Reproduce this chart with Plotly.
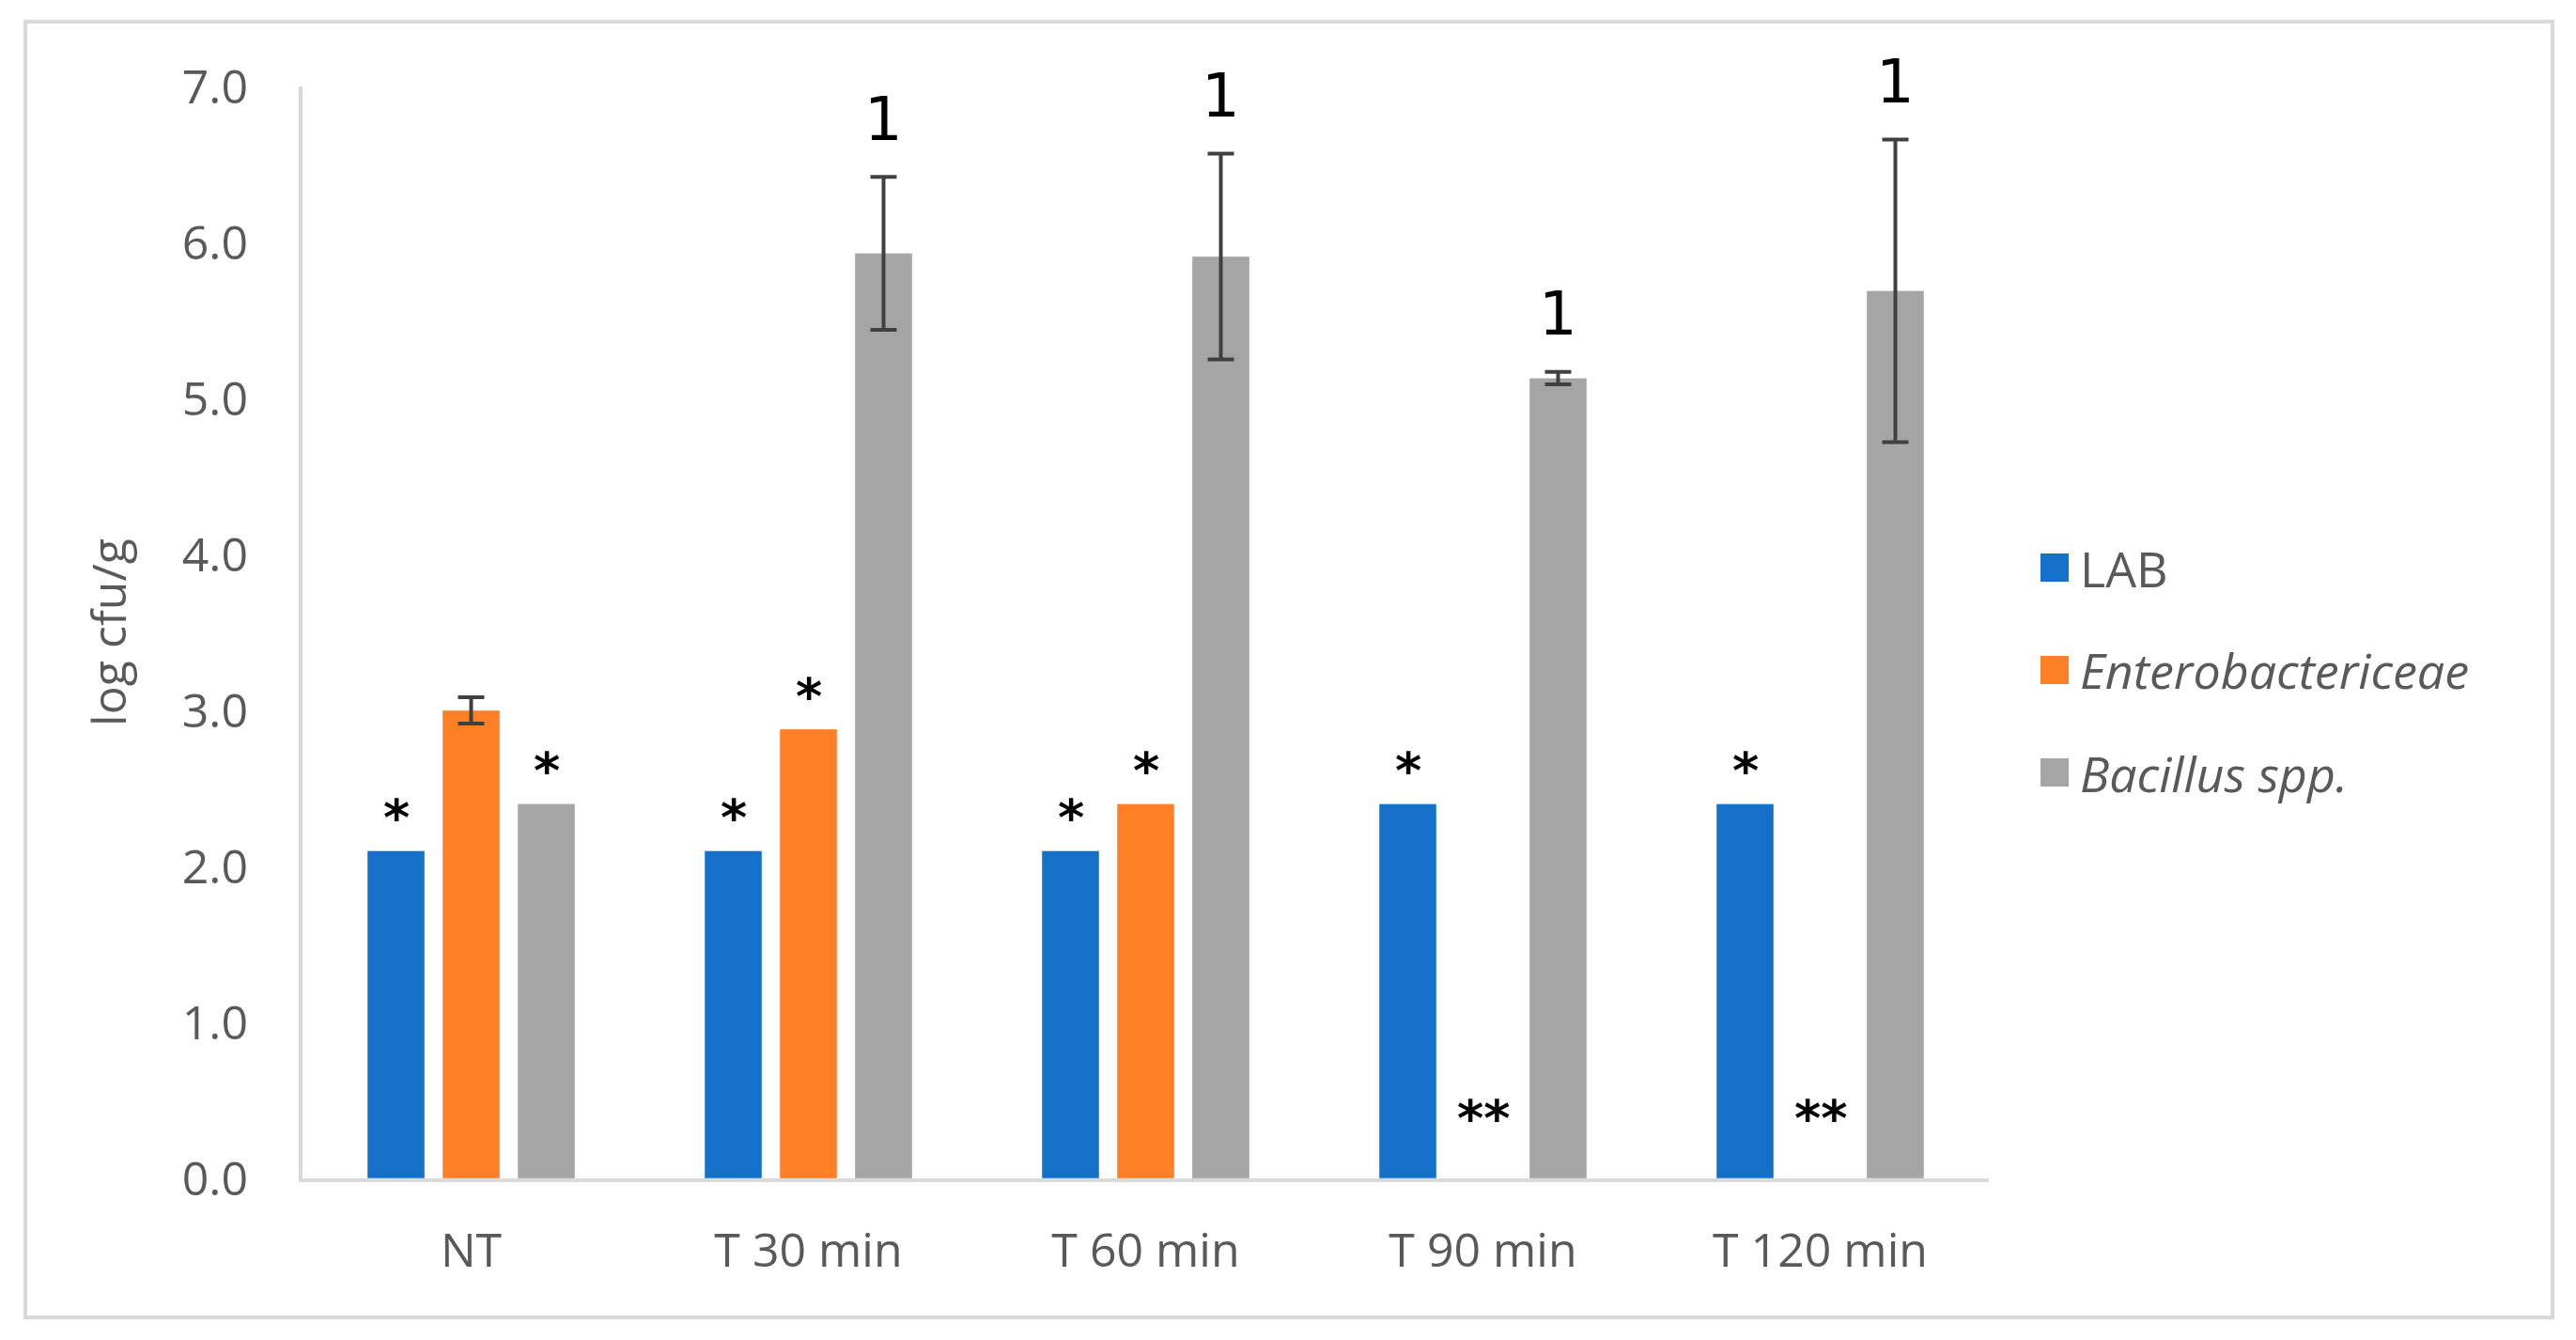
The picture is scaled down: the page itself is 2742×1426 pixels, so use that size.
import plotly.graph_objects as go

# ---------------- data ----------------
categories = ["NT", "T 30 min", "T 60 min", "T 90 min", "T 120 min"]
series_names = ["LAB", "Enterobactericeae", "Bacillus spp."]
series_italic = [False, True, True]
lab_values = [2.10, 2.10, 2.10, 2.40, 2.40]
entero_values = [3.00, 2.88, 2.40, None, None]
bacillus_values = [2.40, 5.93, 5.91, 5.13, 5.69]
lab_err = [None, None, None, None, None]
entero_err = [0.085, None, None, None, None]
bacillus_err = [None, 0.49, 0.66, 0.04, 0.97]
lab_marks = ["*", "*", "*", "*", "*"]
entero_marks = ["", "*", "*", "**", "**"]
bacillus_marks = ["*", "1", "1", "1", "1"]
y_ticks = [0, 1, 2, 3, 4, 5, 6, 7]
y_max = 7

# ---------------- style ----------------
colors = ["#1470C8", "#FF7F27", "#A5A5A5"]
OFF = 8                      # page body margin
W, H = 2742 - OFF, 1426 - OFF
PL, PR, PT, PB = 322, 2117, 92, 1254   # plot area in reference pixels
L, T = PL - OFF, PT - OFF
R, B = W - (PR - OFF), H - (PB - OFF)
BARGAP = 0.3315
BARGROUPGAP = 0.2375
TXT = "#595959"
FONT = "Open Sans"
MARK_FONT = "DejaVu Sans"
mark_size = {"*": 54, "**": 54, "1": 64}
mark_pad = {"*": 0.21, "**": 0.38, "1": 0.37}

values = [lab_values, entero_values, bacillus_values]
errs = [lab_err, entero_err, bacillus_err]
marks = [lab_marks, entero_marks, bacillus_marks]

fig = go.Figure()
for s, (name, vals, err, col) in enumerate(zip(series_names, values, errs, colors)):
    with_err = [i for i, v in enumerate(vals) if v is not None and err[i] is not None]
    no_err = [i for i, v in enumerate(vals) if v is not None and err[i] is None]
    if no_err:
        fig.add_trace(go.Bar(
            x=[categories[i] for i in no_err], y=[vals[i] for i in no_err],
            name=name, marker_color=col, showlegend=False, offsetgroup=str(s),
        ))
    if with_err:
        fig.add_trace(go.Bar(
            x=[categories[i] for i in with_err], y=[vals[i] for i in with_err],
            name=name, marker_color=col, showlegend=False, offsetgroup=str(s),
            error_y=dict(type="data", array=[err[i] for i in with_err], visible=True,
                         color="#404040", thickness=4, width=14),
        ))

# significance marks above bars
n_series = len(series_names)
slot = (1 - BARGAP) / n_series
annotations = []
for s in range(n_series):
    for i, cat in enumerate(categories):
        m = marks[s][i]
        if not m:
            continue
        v = values[s][i] or 0.0
        e = errs[s][i] or 0.0
        xpos = i + (s - (n_series - 1) / 2) * slot
        annotations.append(dict(
            x=xpos, y=(v + e + mark_pad[m]) / y_max, xref="x", yref="paper", text=m,
            showarrow=False, xanchor="center", yanchor="middle",
            font=dict(family=MARK_FONT, size=mark_size[m], color="black",
                      weight=700 if "*" in m else 400),
        ))

# custom legend (reference pixel positions -> paper coords)
plot_w = PR - PL
plot_h = PB - PT
def px_x(p):
    return (p - PL) / plot_w
def px_y(p):
    return (PB - p) / plot_h

shapes = []
leg_y0 = 604
leg_dy = 109
for k, (name, col, it) in enumerate(zip(series_names, colors, series_italic)):
    cy = leg_y0 + k * leg_dy
    shapes.append(dict(type="rect", xref="paper", yref="paper",
                       x0=px_x(2172), x1=px_x(2202), y0=px_y(cy + 15), y1=px_y(cy - 15),
                       fillcolor=col, line=dict(width=0)))
    annotations.append(dict(
        x=px_x(2212), y=px_y(cy), xref="paper", yref="paper",
        text=f"<i>{name}</i>" if it else name, showarrow=False,
        xanchor="left", yanchor="middle",
        font=dict(family=FONT, size=52, color=TXT),
    ))

# outer border
shapes.append(dict(type="rect", xref="paper", yref="paper",
                   x0=px_x(27), x1=px_x(2717), y0=px_y(1402), y1=px_y(23),
                   line=dict(color="#D9D9D9", width=4), fillcolor="rgba(0,0,0,0)",
                   layer="below"))

fig.update_layout(
    width=W, height=H,
    margin=dict(l=L, r=R, t=T, b=B, autoexpand=False),
    paper_bgcolor="white", plot_bgcolor="white",
    barmode="group", bargap=BARGAP, bargroupgap=BARGROUPGAP,
    font=dict(family=FONT, size=50, color=TXT),
    annotations=annotations, shapes=shapes,
    xaxis=dict(showline=True, linecolor="#D9D9D9", linewidth=4, showgrid=False,
               ticks="", ticklabelstandoff=30, tickfont=dict(size=50, color=TXT),
               zeroline=False, categoryorder="array", categoryarray=categories),
    yaxis=dict(range=[0, y_max], tickvals=y_ticks, tickformat=".1f", showgrid=False,
               showline=True, linecolor="#D9D9D9", linewidth=4, ticks="",
               ticklabelstandoff=44, zeroline=False,
               tickfont=dict(size=50, color=TXT),
               title=dict(text="log cfu/g", font=dict(size=50, color=TXT), standoff=44)),
)

fig.write_html("out.html")
